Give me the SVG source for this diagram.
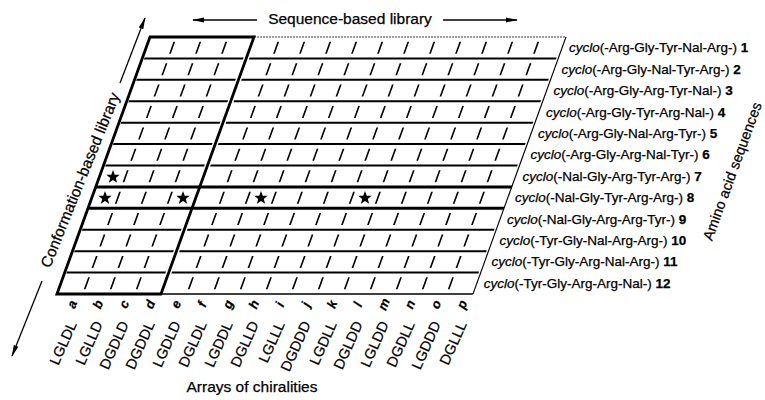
<svg xmlns="http://www.w3.org/2000/svg" width="765" height="400" viewBox="0 0 765 400">
<style>
text{font-family:"Liberation Sans",Arial,sans-serif;fill:#000;stroke:#000;stroke-width:0.25}
.row{font-size:13.5px}
.ttl{font-size:15.5px}
.let{font-size:13px;font-weight:bold;font-style:italic}
.chi{font-size:14.5px}
.hl{stroke:#000;stroke-width:2;fill:none}
.thick{stroke:#000;stroke-width:3;fill:none}
.tick{stroke:#000;stroke-width:1.7;stroke-dasharray:12 9.4167;stroke-dashoffset:16.708;fill:none}
.arr{stroke:#000;stroke-width:1.3;fill:none;marker-end:url(#ah)}
</style>
<defs>
<marker id="ah" viewBox="0 0 12 6" refX="11" refY="3" markerWidth="12" markerHeight="6" markerUnits="userSpaceOnUse" orient="auto">
<path d="M0,0.6 L12,3 L0,5.4 z" fill="#000"/>
</marker>
<polygon id="star" points="0,-7 1.72,-2.37 6.66,-2.16 2.79,0.91 4.11,5.66 0,2.93 -4.11,5.66 -2.79,0.91 -6.66,-2.16 -1.72,-2.37" fill="#000"/>
</defs>

<g id="grid" transform="translate(150,37) skewX(-19.9)">
<g id="row-lines">
<path class="hl" d="M2,21.42H101M107,21.42H414M2,42.83H101M107,42.83H414M2,64.25H101M107,64.25H414M2,85.67H101M107,85.67H414M2,107.08H101M107,107.08H414M2,128.5H101M107,128.5H414M2,192.75H101M107,192.75H414M2,214.17H101M107,214.17H414M2,235.58H101M107,235.58H414"/>
</g>
<g id="ticks">
<path class="tick" d="M26,0V257M52,0V257M78,0V257M130,0V257M156,0V257M182,0V257M208,0V257M234,0V257M260,0V257M286,0V257M312,0V257M338,0V257M364,0V257M390,0V257"/>
</g>
<g id="sequence-block">
<path d="M104,0H416" stroke="#333" stroke-width="1" stroke-dasharray="2 1" fill="none"/>
<path d="M416,0V257" stroke="#000" stroke-width="1.2" fill="none"/>
<path d="M104,257H416" stroke="#000" stroke-width="1.4" fill="none"/>
</g>
<g id="row8-box">
<path class="thick" d="M0,149.92H416M0,171.33H416"/>
</g>
<g id="conformation-block">
<rect class="thick" x="0" y="0" width="104" height="257"/>
</g>
</g>

<g id="stars">
<use href="#star" x="113" y="177"/>
<use href="#star" x="105" y="198"/>
<use href="#star" x="183" y="198"/>
<use href="#star" x="261" y="198"/>
<use href="#star" x="365" y="198"/>
</g>

<g id="connectors">
<line class="arr" x1="257" y1="20" x2="193" y2="20"/>
<line class="arr" x1="443" y1="20" x2="517" y2="20"/>
<line class="arr" x1="120" y1="83" x2="145" y2="18"/>
<line class="arr" x1="42" y1="281" x2="12" y2="356"/>
</g>

<g id="titles">
<text class="ttl" x="350" y="24" text-anchor="middle">Sequence-based library</text>
<text class="ttl" transform="translate(85,182) rotate(-68)" text-anchor="middle">Conformation-based library</text>
<text class="ttl" transform="translate(737,173) rotate(-70)" text-anchor="middle" style="font-size:14.5px">Amino acid sequences</text>
<text class="ttl" x="252" y="392" text-anchor="middle">Arrays of chiralities</text>
</g>

<g id="row-labels" class="row">
<text x="569" y="52.2"><tspan font-style="italic">cyclo</tspan>(-Arg-Gly-Tyr-Nal-Arg-) <tspan font-weight="bold">1</tspan></text>
<text x="561.4" y="73.6"><tspan font-style="italic">cyclo</tspan>(-Arg-Gly-Nal-Tyr-Arg-) <tspan font-weight="bold">2</tspan></text>
<text x="553.6" y="95"><tspan font-style="italic">cyclo</tspan>(-Arg-Gly-Arg-Tyr-Nal-) <tspan font-weight="bold">3</tspan></text>
<text x="545.9" y="116.5"><tspan font-style="italic">cyclo</tspan>(-Arg-Gly-Tyr-Arg-Nal-) <tspan font-weight="bold">4</tspan></text>
<text x="538.1" y="137.9"><tspan font-style="italic">cyclo</tspan>(-Arg-Gly-Nal-Arg-Tyr-) <tspan font-weight="bold">5</tspan></text>
<text x="530.4" y="159.3"><tspan font-style="italic">cyclo</tspan>(-Arg-Gly-Arg-Nal-Tyr-) <tspan font-weight="bold">6</tspan></text>
<text x="522.6" y="180.7"><tspan font-style="italic">cyclo</tspan>(-Nal-Gly-Arg-Tyr-Arg-) <tspan font-weight="bold">7</tspan></text>
<text x="514.9" y="202.1"><tspan font-style="italic">cyclo</tspan>(-Nal-Gly-Tyr-Arg-Arg-) <tspan font-weight="bold">8</tspan></text>
<text x="507.1" y="223.5"><tspan font-style="italic">cyclo</tspan>(-Nal-Gly-Arg-Arg-Tyr-) <tspan font-weight="bold">9</tspan></text>
<text x="499.4" y="245"><tspan font-style="italic">cyclo</tspan>(-Tyr-Gly-Nal-Arg-Arg-) <tspan font-weight="bold">10</tspan></text>
<text x="491.6" y="266.4"><tspan font-style="italic">cyclo</tspan>(-Tyr-Gly-Arg-Nal-Arg-) <tspan font-weight="bold">11</tspan></text>
<text x="483.8" y="287.8"><tspan font-style="italic">cyclo</tspan>(-Tyr-Gly-Arg-Arg-Nal-) <tspan font-weight="bold">12</tspan></text>
</g>

<g id="column-letters" class="let" text-anchor="middle">
<text transform="translate(76,306) rotate(-68)">a</text>
<text transform="translate(102,306) rotate(-68)">b</text>
<text transform="translate(128,306) rotate(-68)">c</text>
<text transform="translate(154,306) rotate(-68)">d</text>
<text transform="translate(180,306) rotate(-68)">e</text>
<text transform="translate(206,306) rotate(-68)">f</text>
<text transform="translate(232,306) rotate(-68)">g</text>
<text transform="translate(258,306) rotate(-68)">h</text>
<text transform="translate(284,306) rotate(-68)">i</text>
<text transform="translate(310,306) rotate(-68)">j</text>
<text transform="translate(336,306) rotate(-68)">k</text>
<text transform="translate(362,306) rotate(-68)">l</text>
<text transform="translate(388,306) rotate(-68)">m</text>
<text transform="translate(414,306) rotate(-68)">n</text>
<text transform="translate(440,306) rotate(-68)">o</text>
<text transform="translate(466,306) rotate(-68)">p</text>
</g>

<g id="chirality-labels" class="chi" text-anchor="end">
<text transform="translate(77,324) rotate(-66)">LGLDL</text>
<text transform="translate(103,324) rotate(-66)">LGLLD</text>
<text transform="translate(129,324) rotate(-66)">DGDLD</text>
<text transform="translate(155,324) rotate(-66)">DGDDL</text>
<text transform="translate(181,324) rotate(-66)">LGDLD</text>
<text transform="translate(207,324) rotate(-66)">DGLDL</text>
<text transform="translate(233,324) rotate(-66)">LGDDL</text>
<text transform="translate(259,324) rotate(-66)">DGLLD</text>
<text transform="translate(285,324) rotate(-66)">LGLLL</text>
<text transform="translate(311,324) rotate(-66)">DGDDD</text>
<text transform="translate(337,324) rotate(-66)">LGDLL</text>
<text transform="translate(363,324) rotate(-66)">DGLDD</text>
<text transform="translate(389,324) rotate(-66)">LGLDD</text>
<text transform="translate(415,324) rotate(-66)">DGDLL</text>
<text transform="translate(441,324) rotate(-66)">LGDDD</text>
<text transform="translate(467,324) rotate(-66)">DGLLL</text>
</g>
</svg>
